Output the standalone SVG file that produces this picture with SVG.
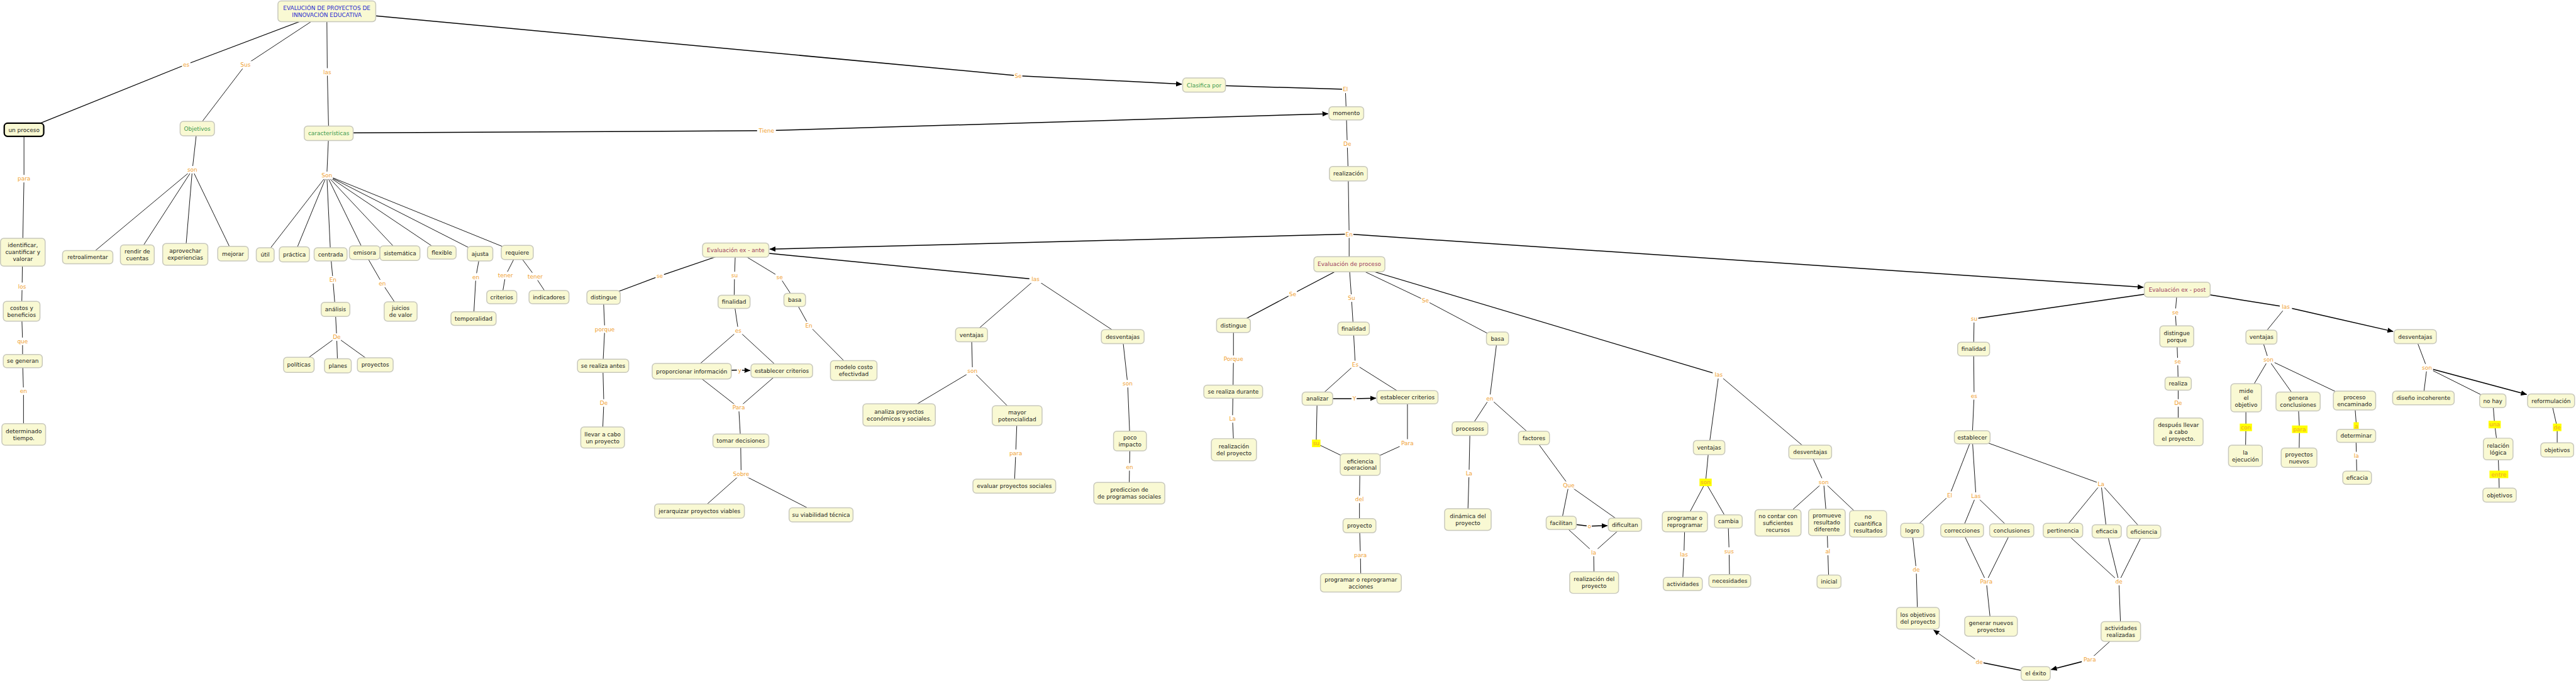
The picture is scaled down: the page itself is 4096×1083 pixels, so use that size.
<svg xmlns="http://www.w3.org/2000/svg" width="4096" height="1083" viewBox="0 0 4096 1083">
<defs>
<style>
.nb{fill:#f9f9d3;stroke:#c8c8bc;stroke-width:2}
.sel{stroke:#000;stroke-width:3}
.t{font-family:"DejaVu Sans",Verdana,sans-serif;font-size:12px;text-anchor:middle;fill:#1a1a1a}
.g{fill:#3c9a4e}
.m{fill:#9b3c5e}
.b{fill:#2a2ad0}
.c{stroke:#000;stroke-width:1.2;fill:none}
.cm{stroke:#000;stroke-width:1.6;fill:none}
.ck{stroke:#000;stroke-width:2;fill:none}
.ar{marker-end:url(#ah)}
.lb{fill:#fff}
.hl{fill:#ffff00}
.lt{font-family:"DejaVu Sans",Verdana,sans-serif;font-size:12px;text-anchor:middle;fill:#f0a030}
</style>
<marker id="ah" markerUnits="userSpaceOnUse" markerWidth="13" markerHeight="11" refX="12" refY="5.5" orient="auto"><path d="M0,0 L13,5.5 L0,11 z" fill="#000"/></marker>
</defs>
<rect width="4096" height="1083" fill="#fff"/>
<g transform="scale(0.74772)">
<g id="connectors">
<path class="cm" d="M695,24 L396,137 L51,276"/>
<path class="c" d="M695,24 L522,138 L419,273"/>
<path class="c" d="M695,24 L696,153 L699,283"/>
<path class="ck" d="M695,24 L2165,161"/>
<path class="ck ar" d="M2165,161 L2513,179"/>
<path class="ck" d="M2560,181 L2861,190"/>
<path class="c" d="M2861,190 L2863,241"/>
<path class="ck" d="M699,283 L1630,278"/>
<path class="ck ar" d="M1630,278 L2824,242"/>
<path class="c" d="M2863,241 L2865,306 L2867,369 L2869,498 L2869,562"/>
<path class="ck ar" d="M2869,498 L1637,530"/>
<path class="ck ar" d="M2869,498 L4558,611"/>
<path class="c" d="M51,276 L51,380 L48,536 L47,609 L46,662 L48,726 L48,768 L50,832 L50,924"/>
<path class="c" d="M419,273 L409,361 M409,361 L186,547 M409,361 L292,542 M409,361 L394,541 M409,361 L495,539"/>
<path class="c" d="M699,283 L695,373 M695,373 L564,542 M695,373 L626,541 M695,373 L703,541 M695,373 L775,537 M695,373 L850,538 M695,373 L939,537 M695,373 L1021,539 M695,373 L1100,537"/>
<path class="c" d="M703,541 L708,595 L713,658 L716,717 M716,717 L635,776 M716,717 L718,778 M716,717 L798,776"/>
<path class="c" d="M775,537 L813,603 L852,662"/>
<path class="c" d="M1021,539 L1012,589 L1007,677"/>
<path class="c" d="M1100,537 L1075,586 L1067,632 M1100,537 L1138,588 L1167,632"/>
<path class="cm" d="M1564,532 L1403,587 L1283,632"/>
<path class="c" d="M1283,632 L1286,700 L1282,778 L1284,857 L1281,930"/>
<path class="c" d="M1564,532 L1562,586 L1561,642 L1570,703 M1570,703 L1471,789 M1570,703 L1662,788"/>
<path class="ck" d="M1471,789 L1573,787"/>
<path class="ck ar" d="M1573,787 L1595,788"/>
<path class="c" d="M1471,789 L1571,867 M1662,788 L1571,867 M1571,867 L1575,937 L1576,1008 M1576,1008 L1487,1087 M1576,1008 L1746,1095"/>
<path class="c" d="M1564,532 L1658,589 L1690,638 L1720,692 L1815,788"/>
<path class="ck" d="M1564,532 L2202,594"/>
<path class="c" d="M2202,594 L2066,712 M2202,594 L2387,716"/>
<path class="c" d="M2066,712 L2068,789 M2068,789 L1912,882 M2068,789 L2163,884 L2160,964 L2157,1034"/>
<path class="c" d="M2387,716 L2398,816 L2403,938 L2402,993 L2401,1049"/>
<path class="cm" d="M2869,562 L2749,625 L2623,692"/>
<path class="c" d="M2623,692 L2623,764 L2622,833 L2621,891 L2624,956"/>
<path class="c" d="M2869,562 L2874,634 L2878,699 L2882,775 M2882,775 L2801,848 M2882,775 L2993,845"/>
<path class="ck" d="M2801,848 L2880,848"/>
<path class="ck ar" d="M2880,848 L2926,847"/>
<path class="c" d="M2801,848 L2799,943 L2892,988 M2993,845 L2993,942 L2892,988"/>
<path class="c" d="M2892,988 L2891,1062 L2891,1118 L2893,1180 L2894,1239"/>
<path class="c" d="M2869,562 L3031,639 L3184,720 L3168,847 M3168,847 L3126,911 M3168,847 L3262,931"/>
<path class="c" d="M3126,911 L3124,1007 L3121,1105"/>
<path class="c" d="M3262,931 L3336,1032 M3336,1032 L3320,1112 M3336,1032 L3455,1116"/>
<path class="ck" d="M3320,1112 L3380,1119"/>
<path class="ck ar" d="M3380,1119 L3418,1118"/>
<path class="c" d="M3320,1112 L3389,1175 M3455,1116 L3389,1175 L3390,1239"/>
<path class="cm" d="M2869,562 L3655,797"/>
<path class="c" d="M3655,797 L3634,952 M3655,797 L3849,961"/>
<path class="c" d="M3634,952 L3627,1026 M3627,1026 L3583,1109 M3627,1026 L3675,1109"/>
<path class="c" d="M3583,1109 L3581,1179 L3578,1242 M3675,1109 L3677,1172 L3678,1235"/>
<path class="c" d="M3849,961 L3878,1025 M3878,1025 L3781,1112 M3878,1025 L3885,1111 M3878,1025 L3972,1114"/>
<path class="c" d="M3885,1111 L3887,1173 L3889,1237"/>
<path class="ck" d="M4630,616 L4198,678"/>
<path class="c" d="M4198,678 L4197,742 L4198,842 L4194,930"/>
<path class="c" d="M4194,930 L4146,1053 L4066,1128 L4075,1212 L4078,1315"/>
<path class="c" d="M4194,930 L4202,1055 M4202,1055 L4172,1128 M4202,1055 L4278,1128"/>
<path class="c" d="M4172,1128 L4224,1237 M4278,1128 L4224,1237 L4234,1332"/>
<path class="c" d="M4194,930 L4468,1029 M4468,1029 L4387,1128 M4468,1029 L4480,1130 M4468,1029 L4559,1131"/>
<path class="c" d="M4387,1128 L4506,1237 M4480,1130 L4506,1237 M4559,1131 L4506,1237 L4510,1343"/>
<path class="c" d="M4510,1343 L4444,1403"/>
<path class="ck ar" d="M4444,1403 L4362,1424"/>
<path class="ck" d="M4329,1432 L4209,1408"/>
<path class="c ar" d="M4209,1408 L4112,1340"/>
<path class="c" d="M4630,616 L4626,664 L4629,715 L4631,769 L4632,816 L4632,857 L4632,918"/>
<path class="ck" d="M4630,616 L4861,653"/>
<path class="c" d="M4861,653 L4809,717"/>
<path class="ck ar" d="M4861,653 L5089,705"/>
<path class="c" d="M4809,717 L4824,765 M4824,765 L4776,846 M4824,765 L4887,854 M4824,765 L5007,852"/>
<path class="c" d="M4776,846 L4776,909 L4775,969 M4887,854 L4890,913 L4889,973 M5007,852 L5011,906 L5010,927 L5011,969 L5012,1016"/>
<path class="c" d="M5136,716 L5161,782 M5161,782 L5153,846 M5161,782 L5301,852"/>
<path class="ck ar" d="M5161,782 L5373,839"/>
<path class="c" d="M5301,852 L5305,903 L5312,955 L5314,1009 L5315,1053"/>
<path class="c" d="M5425,852 L5438,909 L5438,957"/>
<g id="labels">
<rect class="lb" x="387" y="129" width="18" height="16"/><text class="lt" x="396" y="141.3">es</text>
<rect class="lb" x="509" y="130" width="26" height="16"/><text class="lt" x="522" y="142.3">Sus</text>
<rect class="lb" x="683" y="145" width="26" height="16"/><text class="lt" x="696" y="157.3">las</text>
<rect class="lb" x="2156" y="153" width="18" height="16"/><text class="lt" x="2165" y="165.3">Se</text>
<rect class="lb" x="2854" y="182" width="14" height="16"/><text class="lt" x="2861" y="194.3">El</text>
<rect class="lb" x="1610" y="270" width="40" height="16"/><text class="lt" x="1630" y="282.3">Tiene</text>
<rect class="lb" x="2856" y="298" width="18" height="16"/><text class="lt" x="2865" y="310.3">De</text>
<rect class="lb" x="2860" y="490" width="18" height="16"/><text class="lt" x="2869" y="502.3">En</text>
<rect class="lb" x="34" y="372" width="33" height="16"/><text class="lt" x="51" y="384.3">para</text>
<rect class="lb" x="34" y="601" width="26" height="16"/><text class="lt" x="47" y="613.3">los</text>
<rect class="lb" x="35" y="718" width="26" height="16"/><text class="lt" x="48" y="730.3">que</text>
<rect class="lb" x="41" y="824" width="18" height="16"/><text class="lt" x="50" y="836.3">en</text>
<rect class="lb" x="396" y="353" width="26" height="16"/><text class="lt" x="409" y="365.3">son</text>
<rect class="lb" x="682" y="365" width="26" height="16"/><text class="lt" x="695" y="377.3">Son</text>
<rect class="lb" x="699" y="587" width="18" height="16"/><text class="lt" x="708" y="599.3">En</text>
<rect class="lb" x="707" y="709" width="18" height="16"/><text class="lt" x="716" y="721.3">De</text>
<rect class="lb" x="804" y="595" width="18" height="16"/><text class="lt" x="813" y="607.3">en</text>
<rect class="lb" x="1003" y="581" width="18" height="16"/><text class="lt" x="1012" y="593.3">en</text>
<rect class="lb" x="1055" y="578" width="40" height="16"/><text class="lt" x="1075" y="590.3">tener</text>
<rect class="lb" x="1118" y="580" width="40" height="16"/><text class="lt" x="1138" y="592.3">tener</text>
<rect class="lb" x="1394" y="579" width="18" height="16"/><text class="lt" x="1403" y="591.3">se</text>
<rect class="lb" x="1262" y="692" width="47" height="16"/><text class="lt" x="1286" y="704.3">porque</text>
<rect class="lb" x="1275" y="849" width="18" height="16"/><text class="lt" x="1284" y="861.3">De</text>
<rect class="lb" x="1553" y="578" width="18" height="16"/><text class="lt" x="1562" y="590.3">su</text>
<rect class="lb" x="1561" y="695" width="18" height="16"/><text class="lt" x="1570" y="707.3">es</text>
<rect class="lb" x="1567" y="779" width="11" height="16"/><text class="lt" x="1573" y="791.3">y</text>
<rect class="lb" x="1554" y="859" width="33" height="16"/><text class="lt" x="1571" y="871.3">Para</text>
<rect class="lb" x="1556" y="1000" width="40" height="16"/><text class="lt" x="1576" y="1012.3">Sobre</text>
<rect class="lb" x="1649" y="581" width="18" height="16"/><text class="lt" x="1658" y="593.3">se</text>
<rect class="lb" x="1711" y="684" width="18" height="16"/><text class="lt" x="1720" y="696.3">En</text>
<rect class="lb" x="2189" y="586" width="26" height="16"/><text class="lt" x="2202" y="598.3">las</text>
<rect class="lb" x="2055" y="781" width="26" height="16"/><text class="lt" x="2068" y="793.3">son</text>
<rect class="lb" x="2143" y="956" width="33" height="16"/><text class="lt" x="2160" y="968.3">para</text>
<rect class="lb" x="2385" y="808" width="26" height="16"/><text class="lt" x="2398" y="820.3">son</text>
<rect class="lb" x="2393" y="985" width="18" height="16"/><text class="lt" x="2402" y="997.3">en</text>
<rect class="lb" x="2740" y="617" width="18" height="16"/><text class="lt" x="2749" y="629.3">Se</text>
<rect class="lb" x="2599" y="756" width="47" height="16"/><text class="lt" x="2623" y="768.3">Porque</text>
<rect class="lb" x="2612" y="883" width="18" height="16"/><text class="lt" x="2621" y="895.3">La</text>
<rect class="lb" x="2865" y="626" width="18" height="16"/><text class="lt" x="2874" y="638.3">Su</text>
<rect class="lb" x="2873" y="767" width="18" height="16"/><text class="lt" x="2882" y="779.3">Es</text>
<rect class="lb" x="2874" y="840" width="11" height="16"/><text class="lt" x="2880" y="852.3">Y</text>
<rect class="hl" x="2790" y="935" width="18" height="16"/><text class="lt" x="2799" y="947.3">su</text>
<rect class="lb" x="2976" y="934" width="33" height="16"/><text class="lt" x="2993" y="946.3">Para</text>
<rect class="lb" x="2878" y="1054" width="26" height="16"/><text class="lt" x="2891" y="1066.3">del</text>
<rect class="lb" x="2876" y="1172" width="33" height="16"/><text class="lt" x="2893" y="1184.3">para</text>
<rect class="lb" x="3022" y="631" width="18" height="16"/><text class="lt" x="3031" y="643.3">Se</text>
<rect class="lb" x="3159" y="839" width="18" height="16"/><text class="lt" x="3168" y="851.3">en</text>
<rect class="lb" x="3115" y="999" width="18" height="16"/><text class="lt" x="3124" y="1011.3">La</text>
<rect class="lb" x="3323" y="1024" width="26" height="16"/><text class="lt" x="3336" y="1036.3">Que</text>
<rect class="lb" x="3374" y="1111" width="11" height="16"/><text class="lt" x="3380" y="1123.3">o</text>
<rect class="lb" x="3380" y="1167" width="18" height="16"/><text class="lt" x="3389" y="1179.3">la</text>
<rect class="lb" x="3642" y="789" width="26" height="16"/><text class="lt" x="3655" y="801.3">las</text>
<rect class="hl" x="3614" y="1018" width="26" height="16"/><text class="lt" x="3627" y="1030.3">son</text>
<rect class="lb" x="3568" y="1171" width="26" height="16"/><text class="lt" x="3581" y="1183.3">las</text>
<rect class="lb" x="3664" y="1164" width="26" height="16"/><text class="lt" x="3677" y="1176.3">sus</text>
<rect class="lb" x="3865" y="1017" width="26" height="16"/><text class="lt" x="3878" y="1029.3">son</text>
<rect class="lb" x="3878" y="1165" width="18" height="16"/><text class="lt" x="3887" y="1177.3">al</text>
<rect class="lb" x="4189" y="670" width="18" height="16"/><text class="lt" x="4198" y="682.3">su</text>
<rect class="lb" x="4189" y="834" width="18" height="16"/><text class="lt" x="4198" y="846.3">es</text>
<rect class="lb" x="4139" y="1045" width="14" height="16"/><text class="lt" x="4146" y="1057.3">El</text>
<rect class="lb" x="4066" y="1204" width="18" height="16"/><text class="lt" x="4075" y="1216.3">de</text>
<rect class="lb" x="4189" y="1047" width="26" height="16"/><text class="lt" x="4202" y="1059.3">Las</text>
<rect class="lb" x="4207" y="1229" width="33" height="16"/><text class="lt" x="4224" y="1241.3">Para</text>
<rect class="lb" x="4459" y="1021" width="18" height="16"/><text class="lt" x="4468" y="1033.3">La</text>
<rect class="lb" x="4497" y="1229" width="18" height="16"/><text class="lt" x="4506" y="1241.3">de</text>
<rect class="lb" x="4427" y="1395" width="33" height="16"/><text class="lt" x="4444" y="1407.3">Para</text>
<rect class="lb" x="4200" y="1400" width="18" height="16"/><text class="lt" x="4209" y="1412.3">de</text>
<rect class="lb" x="4617" y="656" width="18" height="16"/><text class="lt" x="4626" y="668.3">se</text>
<rect class="lb" x="4622" y="761" width="18" height="16"/><text class="lt" x="4631" y="773.3">se</text>
<rect class="lb" x="4623" y="849" width="18" height="16"/><text class="lt" x="4632" y="861.3">De</text>
<rect class="lb" x="4848" y="645" width="26" height="16"/><text class="lt" x="4861" y="657.3">las</text>
<rect class="lb" x="4811" y="757" width="26" height="16"/><text class="lt" x="4824" y="769.3">son</text>
<rect class="hl" x="4763" y="901" width="26" height="16"/><text class="lt" x="4776" y="913.3">con</text>
<rect class="hl" x="4874" y="905" width="33" height="16"/><text class="lt" x="4890" y="917.3">para</text>
<rect class="hl" x="5005" y="898" width="11" height="16"/><text class="lt" x="5011" y="910.3">a</text>
<rect class="lb" x="5002" y="961" width="18" height="16"/><text class="lt" x="5011" y="973.3">la</text>
<rect class="lb" x="5148" y="774" width="26" height="16"/><text class="lt" x="5161" y="786.3">son</text>
<rect class="hl" x="5292" y="895" width="26" height="16"/><text class="lt" x="5305" y="907.3">una</text>
<rect class="hl" x="5294" y="1001" width="40" height="16"/><text class="lt" x="5314" y="1013.3">entre</text>
<rect class="hl" x="5429" y="901" width="18" height="16"/><text class="lt" x="5438" y="913.3">de</text>
</g>
</g>
<g id="nodes">
<g id="n-title"><rect class="nb" x="591" y="2" width="208" height="44" rx="7"/><text class="t b" x="695"><tspan x="695" y="21">EVALUCIÓN DE PROYECTOS DE</tspan><tspan x="695" y="35.7">INNOVACIÓN EDUCATIVA</tspan></text></g>
<g id="n-clasifica"><rect class="nb" x="2515" y="166" width="91" height="30" rx="7"/><text class="t g" x="2560.5" y="185.3">Clasifica por</text></g>
<g id="n-momento"><rect class="nb" x="2826" y="227" width="74" height="28" rx="7"/><text class="t" x="2863" y="245.3">momento</text></g>
<g id="n-realizacion"><rect class="nb" x="2827" y="354" width="81" height="31" rx="7"/><text class="t" x="2867.5" y="373.8">realización</text></g>
<g id="n-unproceso"><rect class="nb sel" x="9" y="262" width="84" height="28" rx="7"/><text class="t" x="51" y="280.3">un proceso</text></g>
<g id="n-objetivos"><rect class="nb" x="383" y="258" width="73" height="31" rx="7"/><text class="t g" x="419.5" y="277.8">Objetivos</text></g>
<g id="n-caracteristicas"><rect class="nb" x="647" y="268" width="104" height="31" rx="7"/><text class="t g" x="699" y="287.8">características</text></g>
<g id="n-identificar"><rect class="nb" x="1" y="507" width="95" height="59" rx="7"/><text class="t" x="48.5"><tspan x="48.5" y="526.1">identificar,</tspan><tspan x="48.5" y="540.8">cuantificar y</tspan><tspan x="48.5" y="555.5">valorar</tspan></text></g>
<g id="n-costos"><rect class="nb" x="7" y="641" width="78" height="42" rx="7"/><text class="t" x="46"><tspan x="46" y="659">costos y</tspan><tspan x="46" y="673.7">beneficios</tspan></text></g>
<g id="n-segeneran"><rect class="nb" x="7" y="754" width="83" height="28" rx="7"/><text class="t" x="48.5" y="772.3">se generan</text></g>
<g id="n-determinado"><rect class="nb" x="4" y="901" width="93" height="46" rx="7"/><text class="t" x="50.5"><tspan x="50.5" y="921">determinado</tspan><tspan x="50.5" y="935.7">tiempo.</tspan></text></g>
<g id="n-retroalimentar"><rect class="nb" x="133" y="533" width="107" height="28" rx="7"/><text class="t" x="186.5" y="551.3">retroalimentar</text></g>
<g id="n-rendir"><rect class="nb" x="256" y="521" width="72" height="42" rx="7"/><text class="t" x="292"><tspan x="292" y="539">rendir de</tspan><tspan x="292" y="553.7">cuentas</tspan></text></g>
<g id="n-aprovechar"><rect class="nb" x="346" y="518" width="96" height="46" rx="7"/><text class="t" x="394"><tspan x="394" y="538">aprovechar</tspan><tspan x="394" y="552.7">experiencias</tspan></text></g>
<g id="n-mejorar"><rect class="nb" x="463" y="524" width="65" height="31" rx="7"/><text class="t" x="495.5" y="543.8">mejorar</text></g>
<g id="n-util"><rect class="nb" x="545" y="527" width="38" height="30" rx="7"/><text class="t" x="564" y="546.3">útil</text></g>
<g id="n-practica"><rect class="nb" x="594" y="525" width="64" height="32" rx="7"/><text class="t" x="626" y="545.3">práctica</text></g>
<g id="n-centrada"><rect class="nb" x="668" y="527" width="70" height="28" rx="7"/><text class="t" x="703" y="545.3">centrada</text></g>
<g id="n-emisora"><rect class="nb" x="743" y="523" width="65" height="29" rx="7"/><text class="t" x="775.5" y="541.8">emisora</text></g>
<g id="n-sistematica"><rect class="nb" x="808" y="523" width="85" height="31" rx="7"/><text class="t" x="850.5" y="542.8">sistemática</text></g>
<g id="n-flexible"><rect class="nb" x="909" y="523" width="61" height="28" rx="7"/><text class="t" x="939.5" y="541.3">flexible</text></g>
<g id="n-ajusta"><rect class="nb" x="994" y="524" width="54" height="31" rx="7"/><text class="t" x="1021" y="543.8">ajusta</text></g>
<g id="n-requiere"><rect class="nb" x="1066" y="522" width="68" height="30" rx="7"/><text class="t" x="1100" y="541.3">requiere</text></g>
<g id="n-analisis"><rect class="nb" x="683" y="643" width="61" height="30" rx="7"/><text class="t" x="713.5" y="662.3">análisis</text></g>
<g id="n-politicas"><rect class="nb" x="603" y="760" width="65" height="32" rx="7"/><text class="t" x="635.5" y="780.3">políticas</text></g>
<g id="n-planes"><rect class="nb" x="690" y="763" width="57" height="30" rx="7"/><text class="t" x="718.5" y="782.3">planes</text></g>
<g id="n-proyectos"><rect class="nb" x="760" y="761" width="76" height="30" rx="7"/><text class="t" x="798" y="780.3">proyectos</text></g>
<g id="n-juicios"><rect class="nb" x="817" y="642" width="70" height="41" rx="7"/><text class="t" x="852"><tspan x="852" y="659.5">juicios</tspan><tspan x="852" y="674.2">de valor</tspan></text></g>
<g id="n-temporalidad"><rect class="nb" x="959" y="663" width="96" height="29" rx="7"/><text class="t" x="1007" y="681.8">temporalidad</text></g>
<g id="n-criterios"><rect class="nb" x="1035" y="618" width="64" height="28" rx="7"/><text class="t" x="1067" y="636.3">criterios</text></g>
<g id="n-indicadores"><rect class="nb" x="1125" y="618" width="85" height="28" rx="7"/><text class="t" x="1167.5" y="636.3">indicadores</text></g>
<g id="n-exante"><rect class="nb" x="1494" y="517" width="141" height="30" rx="7"/><text class="t m" x="1564.5" y="536.3">Evaluación ex - ante</text></g>
<g id="n-distingue1"><rect class="nb" x="1248" y="618" width="71" height="29" rx="7"/><text class="t" x="1283.5" y="636.8">distingue</text></g>
<g id="n-antes"><rect class="nb" x="1228" y="764" width="109" height="28" rx="7"/><text class="t" x="1282.5" y="782.3">se realiza antes</text></g>
<g id="n-llevar"><rect class="nb" x="1235" y="908" width="93" height="45" rx="7"/><text class="t" x="1281.5"><tspan x="1281.5" y="927.5">llevar a cabo</tspan><tspan x="1281.5" y="942.2">un proyecto</tspan></text></g>
<g id="n-finalidad1"><rect class="nb" x="1527" y="628" width="68" height="28" rx="7"/><text class="t" x="1561" y="646.3">finalidad</text></g>
<g id="n-proporcionar"><rect class="nb" x="1387" y="773" width="168" height="33" rx="7"/><text class="t" x="1471" y="793.8">proporcionar información</text></g>
<g id="n-establecer1"><rect class="nb" x="1597" y="774" width="131" height="29" rx="7"/><text class="t" x="1662.5" y="792.8">establecer criterios</text></g>
<g id="n-tomar"><rect class="nb" x="1516" y="923" width="119" height="29" rx="7"/><text class="t" x="1575.5" y="941.8">tomar decisiones</text></g>
<g id="n-jerarquizar"><rect class="nb" x="1392" y="1072" width="191" height="30" rx="7"/><text class="t" x="1487.5" y="1091.3">jerarquizar proyectos viables</text></g>
<g id="n-viabilidad"><rect class="nb" x="1678" y="1080" width="136" height="30" rx="7"/><text class="t" x="1746" y="1099.3">su viabilidad técnica</text></g>
<g id="n-basa1"><rect class="nb" x="1667" y="624" width="46" height="28" rx="7"/><text class="t" x="1690" y="642.3">basa</text></g>
<g id="n-modelo"><rect class="nb" x="1766" y="767" width="99" height="42" rx="7"/><text class="t" x="1815.5"><tspan x="1815.5" y="785">modelo costo</tspan><tspan x="1815.5" y="799.7">efectivdad</tspan></text></g>
<g id="n-ventajas1"><rect class="nb" x="2032" y="697" width="68" height="30" rx="7"/><text class="t" x="2066" y="716.3">ventajas</text></g>
<g id="n-desventajas1"><rect class="nb" x="2342" y="701" width="91" height="30" rx="7"/><text class="t" x="2387.5" y="720.3">desventajas</text></g>
<g id="n-analiza"><rect class="nb" x="1835" y="859" width="154" height="47" rx="7"/><text class="t" x="1912"><tspan x="1912" y="879.5">analiza proyectos</tspan><tspan x="1912" y="894.2">económicos y sociales.</tspan></text></g>
<g id="n-mayor"><rect class="nb" x="2110" y="863" width="106" height="42" rx="7"/><text class="t" x="2163"><tspan x="2163" y="881">mayor</tspan><tspan x="2163" y="895.7">potencialidad</tspan></text></g>
<g id="n-evaluar"><rect class="nb" x="2069" y="1019" width="176" height="30" rx="7"/><text class="t" x="2157" y="1038.3">evaluar proyectos sociales</text></g>
<g id="n-poco"><rect class="nb" x="2368" y="917" width="70" height="42" rx="7"/><text class="t" x="2403"><tspan x="2403" y="935">poco</tspan><tspan x="2403" y="949.7">impacto</tspan></text></g>
<g id="n-prediccion"><rect class="nb" x="2326" y="1026" width="151" height="46" rx="7"/><text class="t" x="2401.5"><tspan x="2401.5" y="1046">prediccion de</tspan><tspan x="2401.5" y="1060.7">de programas sociales</tspan></text></g>
<g id="n-proceso"><rect class="nb" x="2794" y="546" width="151" height="32" rx="7"/><text class="t m" x="2869.5" y="566.3">Evaluación de proceso</text></g>
<g id="n-distingue2"><rect class="nb" x="2587" y="677" width="72" height="30" rx="7"/><text class="t" x="2623" y="696.3">distingue</text></g>
<g id="n-durante"><rect class="nb" x="2560" y="819" width="125" height="28" rx="7"/><text class="t" x="2622.5" y="837.3">se realiza durante</text></g>
<g id="n-realizacion2"><rect class="nb" x="2576" y="933" width="96" height="47" rx="7"/><text class="t" x="2624"><tspan x="2624" y="953.5">realización</tspan><tspan x="2624" y="968.2">del proyecto</tspan></text></g>
<g id="n-finalidad2"><rect class="nb" x="2845" y="685" width="67" height="28" rx="7"/><text class="t" x="2878.5" y="703.3">finalidad</text></g>
<g id="n-analizar"><rect class="nb" x="2769" y="834" width="65" height="28" rx="7"/><text class="t" x="2801.5" y="852.3">analizar</text></g>
<g id="n-establecer2"><rect class="nb" x="2928" y="831" width="130" height="28" rx="7"/><text class="t" x="2993" y="849.3">establecer criterios</text></g>
<g id="n-eficienciaop"><rect class="nb" x="2850" y="965" width="85" height="46" rx="7"/><text class="t" x="2892.5"><tspan x="2892.5" y="985">eficiencia</tspan><tspan x="2892.5" y="999.7">operacional</tspan></text></g>
<g id="n-proyecto"><rect class="nb" x="2856" y="1103" width="70" height="30" rx="7"/><text class="t" x="2891" y="1122.3">proyecto</text></g>
<g id="n-programarAcc"><rect class="nb" x="2808" y="1220" width="172" height="39" rx="7"/><text class="t" x="2894"><tspan x="2894" y="1236.5">programar o reprogramar</tspan><tspan x="2894" y="1251.2">acciones</tspan></text></g>
<g id="n-basa2"><rect class="nb" x="3161" y="706" width="47" height="28" rx="7"/><text class="t" x="3184.5" y="724.3">basa</text></g>
<g id="n-procesoss"><rect class="nb" x="3088" y="897" width="76" height="29" rx="7"/><text class="t" x="3126" y="915.8">procesoss</text></g>
<g id="n-factores"><rect class="nb" x="3229" y="917" width="66" height="29" rx="7"/><text class="t" x="3262" y="935.8">factores</text></g>
<g id="n-dinamica"><rect class="nb" x="3072" y="1082" width="99" height="46" rx="7"/><text class="t" x="3121.5"><tspan x="3121.5" y="1102">dinámica del</tspan><tspan x="3121.5" y="1116.7">proyecto</tspan></text></g>
<g id="n-facilitan"><rect class="nb" x="3288" y="1098" width="64" height="28" rx="7"/><text class="t" x="3320" y="1116.3">facilitan</text></g>
<g id="n-dificultan"><rect class="nb" x="3420" y="1102" width="71" height="28" rx="7"/><text class="t" x="3455.5" y="1120.3">dificultan</text></g>
<g id="n-realizacion3"><rect class="nb" x="3338" y="1216" width="104" height="46" rx="7"/><text class="t" x="3390"><tspan x="3390" y="1236">realización del</tspan><tspan x="3390" y="1250.7">proyecto</tspan></text></g>
<g id="n-ventajas2"><rect class="nb" x="3601" y="937" width="67" height="30" rx="7"/><text class="t" x="3634.5" y="956.3">ventajas</text></g>
<g id="n-desventajas2"><rect class="nb" x="3804" y="947" width="91" height="29" rx="7"/><text class="t" x="3849.5" y="965.8">desventajas</text></g>
<g id="n-programar2"><rect class="nb" x="3535" y="1088" width="96" height="43" rx="7"/><text class="t" x="3583"><tspan x="3583" y="1106.5">programar o</tspan><tspan x="3583" y="1121.2">reprogramar</tspan></text></g>
<g id="n-cambia"><rect class="nb" x="3646" y="1095" width="59" height="28" rx="7"/><text class="t" x="3675.5" y="1113.3">cambia</text></g>
<g id="n-actividades"><rect class="nb" x="3537" y="1228" width="83" height="28" rx="7"/><text class="t" x="3578.5" y="1246.3">actividades</text></g>
<g id="n-necesidades"><rect class="nb" x="3634" y="1222" width="89" height="27" rx="7"/><text class="t" x="3678.5" y="1239.8">necesidades</text></g>
<g id="n-nocontar"><rect class="nb" x="3732" y="1084" width="98" height="56" rx="7"/><text class="t" x="3781"><tspan x="3781" y="1101.6">no contar con</tspan><tspan x="3781" y="1116.3">suficientes</tspan><tspan x="3781" y="1131">recursos</tspan></text></g>
<g id="n-promueve"><rect class="nb" x="3846" y="1083" width="78" height="56" rx="7"/><text class="t" x="3885"><tspan x="3885" y="1100.6">promueve</tspan><tspan x="3885" y="1115.3">resultado</tspan><tspan x="3885" y="1130">diferente</tspan></text></g>
<g id="n-nocuantifica"><rect class="nb" x="3933" y="1086" width="79" height="56" rx="7"/><text class="t" x="3972.5"><tspan x="3972.5" y="1103.6">no</tspan><tspan x="3972.5" y="1118.3">cuantifica</tspan><tspan x="3972.5" y="1133">resultados</tspan></text></g>
<g id="n-inicial"><rect class="nb" x="3864" y="1223" width="51" height="28" rx="7"/><text class="t" x="3889.5" y="1241.3">inicial</text></g>
<g id="n-expost"><rect class="nb" x="4560" y="600" width="140" height="32" rx="7"/><text class="t m" x="4630" y="620.3">Evaluación ex - post</text></g>
<g id="n-finalidad3"><rect class="nb" x="4163" y="728" width="68" height="29" rx="7"/><text class="t" x="4197" y="746.8">finalidad</text></g>
<g id="n-establecer3"><rect class="nb" x="4156" y="916" width="76" height="28" rx="7"/><text class="t" x="4194" y="934.3">establecer</text></g>
<g id="n-logro"><rect class="nb" x="4042" y="1113" width="49" height="30" rx="7"/><text class="t" x="4066.5" y="1132.3">logro</text></g>
<g id="n-losobjetivos"><rect class="nb" x="4033" y="1292" width="91" height="46" rx="7"/><text class="t" x="4078.5"><tspan x="4078.5" y="1312">los objetivos</tspan><tspan x="4078.5" y="1326.7">del proyecto</tspan></text></g>
<g id="n-correcciones"><rect class="nb" x="4127" y="1114" width="91" height="28" rx="7"/><text class="t" x="4172.5" y="1132.3">correcciones</text></g>
<g id="n-conclusiones"><rect class="nb" x="4231" y="1114" width="94" height="28" rx="7"/><text class="t" x="4278" y="1132.3">conclusiones</text></g>
<g id="n-generar"><rect class="nb" x="4178" y="1311" width="112" height="42" rx="7"/><text class="t" x="4234"><tspan x="4234" y="1329">generar nuevos</tspan><tspan x="4234" y="1343.7">proyectos</tspan></text></g>
<g id="n-pertinencia"><rect class="nb" x="4345" y="1113" width="84" height="30" rx="7"/><text class="t" x="4387" y="1132.3">pertinencia</text></g>
<g id="n-eficacia1"><rect class="nb" x="4449" y="1116" width="62" height="28" rx="7"/><text class="t" x="4480" y="1134.3">eficacia</text></g>
<g id="n-eficiencia"><rect class="nb" x="4523" y="1117" width="72" height="28" rx="7"/><text class="t" x="4559" y="1135.3">eficiencia</text></g>
<g id="n-actividadesR"><rect class="nb" x="4468" y="1322" width="84" height="42" rx="7"/><text class="t" x="4510"><tspan x="4510" y="1340">actividades</tspan><tspan x="4510" y="1354.7">realizadas</tspan></text></g>
<g id="n-exito"><rect class="nb" x="4298" y="1418" width="62" height="29" rx="7"/><text class="t" x="4329" y="1436.8">el éxito</text></g>
<g id="n-distinguePorque"><rect class="nb" x="4593" y="693" width="72" height="45" rx="7"/><text class="t" x="4629"><tspan x="4629" y="712.5">distingue</tspan><tspan x="4629" y="727.2">porque</tspan></text></g>
<g id="n-realiza"><rect class="nb" x="4604" y="802" width="56" height="28" rx="7"/><text class="t" x="4632" y="820.3">realiza</text></g>
<g id="n-despues"><rect class="nb" x="4580" y="889" width="105" height="59" rx="7"/><text class="t" x="4632.5"><tspan x="4632.5" y="908.1">después llevar</tspan><tspan x="4632.5" y="922.8">a cabo</tspan><tspan x="4632.5" y="937.5">el proyecto.</tspan></text></g>
<g id="n-ventajas3"><rect class="nb" x="4776" y="702" width="66" height="30" rx="7"/><text class="t" x="4809" y="721.3">ventajas</text></g>
<g id="n-desventajas3"><rect class="nb" x="5091" y="701" width="90" height="30" rx="7"/><text class="t" x="5136" y="720.3">desventajas</text></g>
<g id="n-mide"><rect class="nb" x="4744" y="816" width="65" height="60" rx="7"/><text class="t" x="4776.5"><tspan x="4776.5" y="835.6">mide</tspan><tspan x="4776.5" y="850.3">el</tspan><tspan x="4776.5" y="865">objetivo</tspan></text></g>
<g id="n-genera"><rect class="nb" x="4840" y="834" width="94" height="40" rx="7"/><text class="t" x="4887"><tspan x="4887" y="851">genera</tspan><tspan x="4887" y="865.7">conclusiones</tspan></text></g>
<g id="n-procesoEnc"><rect class="nb" x="4962" y="832" width="90" height="40" rx="7"/><text class="t" x="5007"><tspan x="5007" y="849">proceso</tspan><tspan x="5007" y="863.7">encaminado</tspan></text></g>
<g id="n-laejecucion"><rect class="nb" x="4739" y="947" width="72" height="45" rx="7"/><text class="t" x="4775"><tspan x="4775" y="966.5">la</tspan><tspan x="4775" y="981.2">ejecución</tspan></text></g>
<g id="n-proyectosNuevos"><rect class="nb" x="4851" y="953" width="76" height="41" rx="7"/><text class="t" x="4889"><tspan x="4889" y="970.5">proyectos</tspan><tspan x="4889" y="985.2">nuevos</tspan></text></g>
<g id="n-determinar"><rect class="nb" x="4969" y="913" width="83" height="28" rx="7"/><text class="t" x="5010.5" y="931.3">determinar</text></g>
<g id="n-eficacia2"><rect class="nb" x="4982" y="1002" width="61" height="28" rx="7"/><text class="t" x="5012.5" y="1020.3">eficacia</text></g>
<g id="n-disenio"><rect class="nb" x="5088" y="832" width="131" height="29" rx="7"/><text class="t" x="5153.5" y="850.8">diseño incoherente</text></g>
<g id="n-nohay"><rect class="nb" x="5273" y="838" width="56" height="29" rx="7"/><text class="t" x="5301" y="856.8">no hay</text></g>
<g id="n-reformulacion"><rect class="nb" x="5375" y="838" width="100" height="29" rx="7"/><text class="t" x="5425" y="856.8">reformulación</text></g>
<g id="n-relacion"><rect class="nb" x="5281" y="932" width="63" height="46" rx="7"/><text class="t" x="5312.5"><tspan x="5312.5" y="952">relación</tspan><tspan x="5312.5" y="966.7">lógica</tspan></text></g>
<g id="n-objetivos2"><rect class="nb" x="5280" y="1038" width="71" height="30" rx="7"/><text class="t" x="5315.5" y="1057.3">objetivos</text></g>
<g id="n-objetivos3"><rect class="nb" x="5403" y="942" width="70" height="30" rx="7"/><text class="t" x="5438" y="961.3">objetivos</text></g>
</g>
</g>
</svg>
